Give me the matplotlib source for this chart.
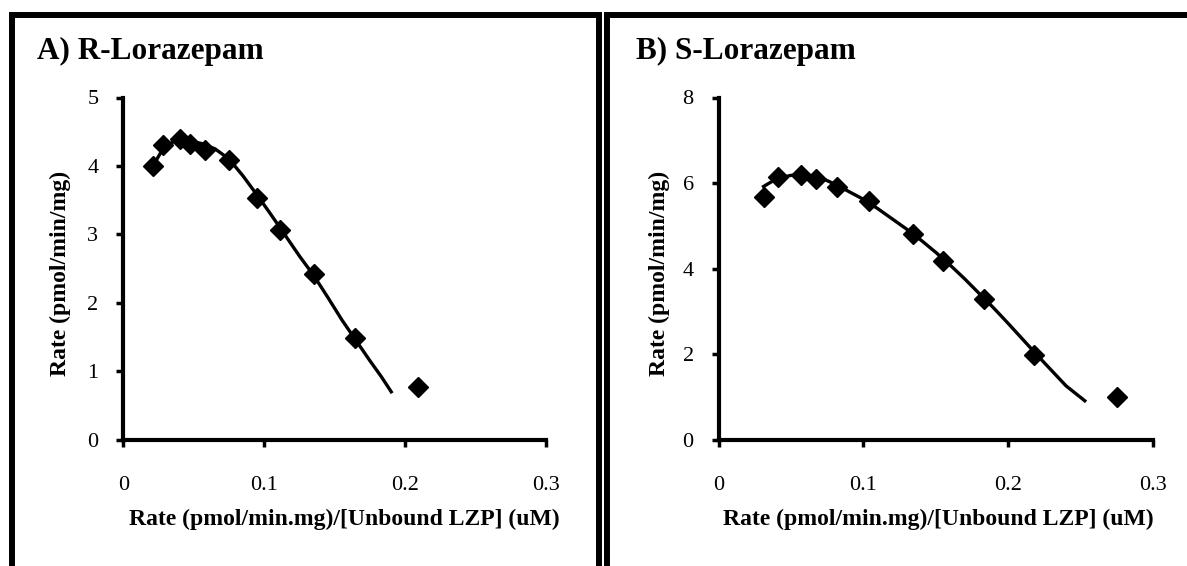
import matplotlib
matplotlib.use("Agg")
import matplotlib.pyplot as plt
from matplotlib.lines import Line2D

plt.rcParams['font.family'] = ['Liberation Serif', 'DejaVu Serif']

# Panel A: R-Lorazepam (measured points)
r_x = [0.021, 0.028, 0.040, 0.047, 0.058, 0.075, 0.095, 0.111, 0.135, 0.164, 0.209]
r_y = [4.00, 4.31, 4.39, 4.32, 4.24, 4.09, 3.53, 3.07, 2.42, 1.49, 0.77]
# fitted curve
r_fit_x = [0.021, 0.028, 0.035, 0.045, 0.055, 0.065, 0.075, 0.085, 0.095, 0.105,
           0.115, 0.125, 0.135, 0.145, 0.155, 0.165, 0.175, 0.183, 0.190]
r_fit_y = [4.00, 4.25, 4.35, 4.37, 4.33, 4.25, 4.10, 3.85, 3.57, 3.28,
           2.98, 2.68, 2.40, 2.08, 1.75, 1.45, 1.15, 0.92, 0.70]

# Panel B: S-Lorazepam
s_x = [0.031, 0.041, 0.057, 0.067, 0.082, 0.104, 0.134, 0.155, 0.183, 0.218, 0.2755]
s_y = [5.67, 6.13, 6.18, 6.10, 5.90, 5.58, 4.82, 4.17, 3.30, 1.99, 1.00]
s_fit_x = [0.031, 0.040, 0.050, 0.060, 0.070, 0.080, 0.090, 0.100, 0.110, 0.120,
           0.130, 0.140, 0.150, 0.160, 0.170, 0.180, 0.190, 0.200, 0.210, 0.220,
           0.230, 0.240, 0.253]
s_fit_y = [5.92, 6.10, 6.18, 6.20, 6.13, 5.98, 5.80, 5.62, 5.40, 5.16,
           4.92, 4.66, 4.38, 4.08, 3.76, 3.42, 3.08, 2.72, 2.35, 1.98,
           1.62, 1.26, 0.91]

xticks = [0, 0.1, 0.2, 0.3]
xticklabels = ['0', '0.1', '0.2', '0.3']
xlabel = 'Rate (pmol/min.mg)/[Unbound LZP] (uM)'
ylabel = 'Rate (pmol/min/mg)'

W, H = 1187, 566
fig = plt.figure(figsize=(W / 100, H / 100), dpi=100)


def px_axes(x0, x1, y0, y1):
    # pixel box -> figure fraction
    return fig.add_axes([x0 / W, 1 - y1 / H, (x1 - x0) / W, (y1 - y0) / H])


def panel(ax, xs, ys, fx, fy, ymax, ystep, title, tx, ylx, xlx):
    ax.plot(fx, fy, color='black', lw=2.4, zorder=2)
    ax.plot(xs, ys, 'D', color='black', ms=10.5, zorder=3, clip_on=False)
    ax.set_xlim(0, 0.3)
    ax.set_ylim(0, ymax)
    ax.set_xticks(xticks)
    ax.set_xticklabels(xticklabels)
    ax.set_yticks(range(0, ymax + 1, ystep))
    for s in ['top', 'right']:
        ax.spines[s].set_visible(False)
    for s in ['left', 'bottom']:
        ax.spines[s].set_linewidth(3)
    ax.tick_params(direction='out', length=5, width=2.5, labelsize=16)
    ax.tick_params(axis='x', pad=21)
    ax.tick_params(axis='y', pad=13)
    fig.text(ylx / W, 1 - 273 / H, ylabel, rotation=90, ha='center', va='center',
             fontsize=17, fontweight='bold')
    fig.text(xlx / W, 1 - 519 / H, xlabel, ha='center', va='center',
             fontsize=17, fontweight='bold')
    fig.text(tx / W, 1 - 59 / H, title, ha='left', va='baseline',
             fontsize=22.5, fontweight='bold')


axA = px_axes(123.4, 546.3, 97.5, 439.7)
panel(axA, r_x, r_y, r_fit_x, r_fit_y, 5, 1, 'A) R-Lorazepam', 37, 60, 344)

axB = px_axes(718.7, 1152.8, 97.5, 439.7)
panel(axB, s_x, s_y, s_fit_x, s_fit_y, 8, 2, 'B) S-Lorazepam', 636, 659, 938)

# panel frames
lw_frame = 4.3
fig.add_artist(Line2D([11.5 / W, 11.5 / W, 599 / W, 599 / W],
                      [-0.05, 1 - 14.5 / H, 1 - 14.5 / H, -0.05],
                      color='black', lw=lw_frame, solid_joinstyle='miter'))
fig.add_artist(Line2D([607 / W, 607 / W, 1.05],
                      [-0.05, 1 - 15 / H, 1 - 15 / H],
                      color='black', lw=lw_frame, solid_joinstyle='miter'))

fig.savefig('out.png', dpi=100)
